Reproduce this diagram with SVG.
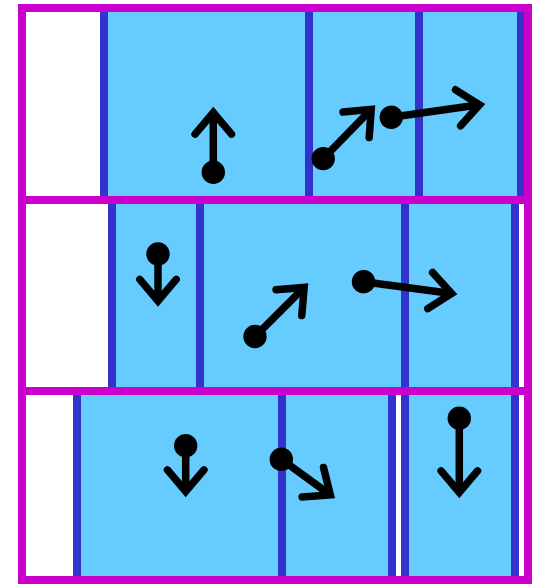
<svg xmlns="http://www.w3.org/2000/svg" width="534" height="584" viewBox="0 0 534 584">
<style>
.box{fill:#66CCFF;stroke:#3333CC;stroke-width:8}
.row{fill:none;stroke:#CC00CC;stroke-width:8}
.vec{stroke:#000;stroke-width:7.5;fill:none;marker-start:url(#dot);marker-end:url(#head)}
</style>
<defs>
<marker id="dot" markerUnits="userSpaceOnUse" viewBox="-15 -15 30 30" markerWidth="30" markerHeight="30" refX="0" refY="0" orient="auto" overflow="visible">
<circle cx="0" cy="0" r="11.7" fill="#000"/>
</marker>
<marker id="head" markerUnits="userSpaceOnUse" viewBox="-40 -40 80 80" markerWidth="80" markerHeight="80" refX="0" refY="0" orient="auto" overflow="visible">
<path d="M-21.6,-18.2 L0,0 L-21.6,18.2" fill="none" stroke="#000" stroke-width="7.5" stroke-linecap="round" stroke-linejoin="miter"/>
</marker>
</defs>
<rect x="0" y="0" width="534" height="584" fill="#fff"/>
<g id="row1-boxes">
<g id="box-1-1"><rect class="box" x="104" y="8" width="205" height="192"/></g>
<g id="box-1-2"><rect class="box" x="309" y="8" width="110" height="192"/></g>
<g id="box-1-3"><rect class="box" x="419" y="8" width="102" height="192"/></g>
</g>
<g id="row2-boxes">
<g id="box-2-1"><rect class="box" x="112" y="200" width="88" height="191"/></g>
<g id="box-2-2"><rect class="box" x="200" y="200" width="205" height="191"/></g>
<g id="box-2-3"><rect class="box" x="405" y="200" width="110" height="191"/></g>
</g>
<g id="row3-boxes">
<g id="box-3-1"><rect class="box" x="77" y="391" width="205" height="189"/></g>
<g id="box-3-2"><rect class="box" x="282" y="391" width="110" height="189"/></g>
<g id="box-3-3"><rect class="box" x="405" y="391" width="110" height="189"/></g>
</g>
<g id="rows">
<g id="row1"><rect class="row" x="22" y="8" width="506" height="192"/></g>
<g id="row2"><rect class="row" x="22" y="200" width="506" height="191"/></g>
<g id="row3"><rect class="row" x="22" y="391" width="506" height="189"/></g>
</g>
<g id="connectors">
<line class="vec" x1="213.3" y1="172.3" x2="213.3" y2="112.5"/>
<line class="vec" x1="323.2" y1="158.6" x2="371.2" y2="109.3"/>
<line class="vec" x1="391.3" y1="117.3" x2="479.5" y2="104.8"/>
<line class="vec" x1="158" y1="254" x2="158" y2="301"/>
<line class="vec" x1="255" y1="336.5" x2="304.2" y2="287.4"/>
<line class="vec" x1="363.5" y1="281.7" x2="451.6" y2="293.5"/>
<line class="vec" x1="185.7" y1="445.7" x2="185.7" y2="491.5"/>
<line class="vec" x1="281.3" y1="459.3" x2="330.3" y2="494.9"/>
<line class="vec" x1="459.3" y1="418.3" x2="459.3" y2="492.5"/>
</g>
</svg>
